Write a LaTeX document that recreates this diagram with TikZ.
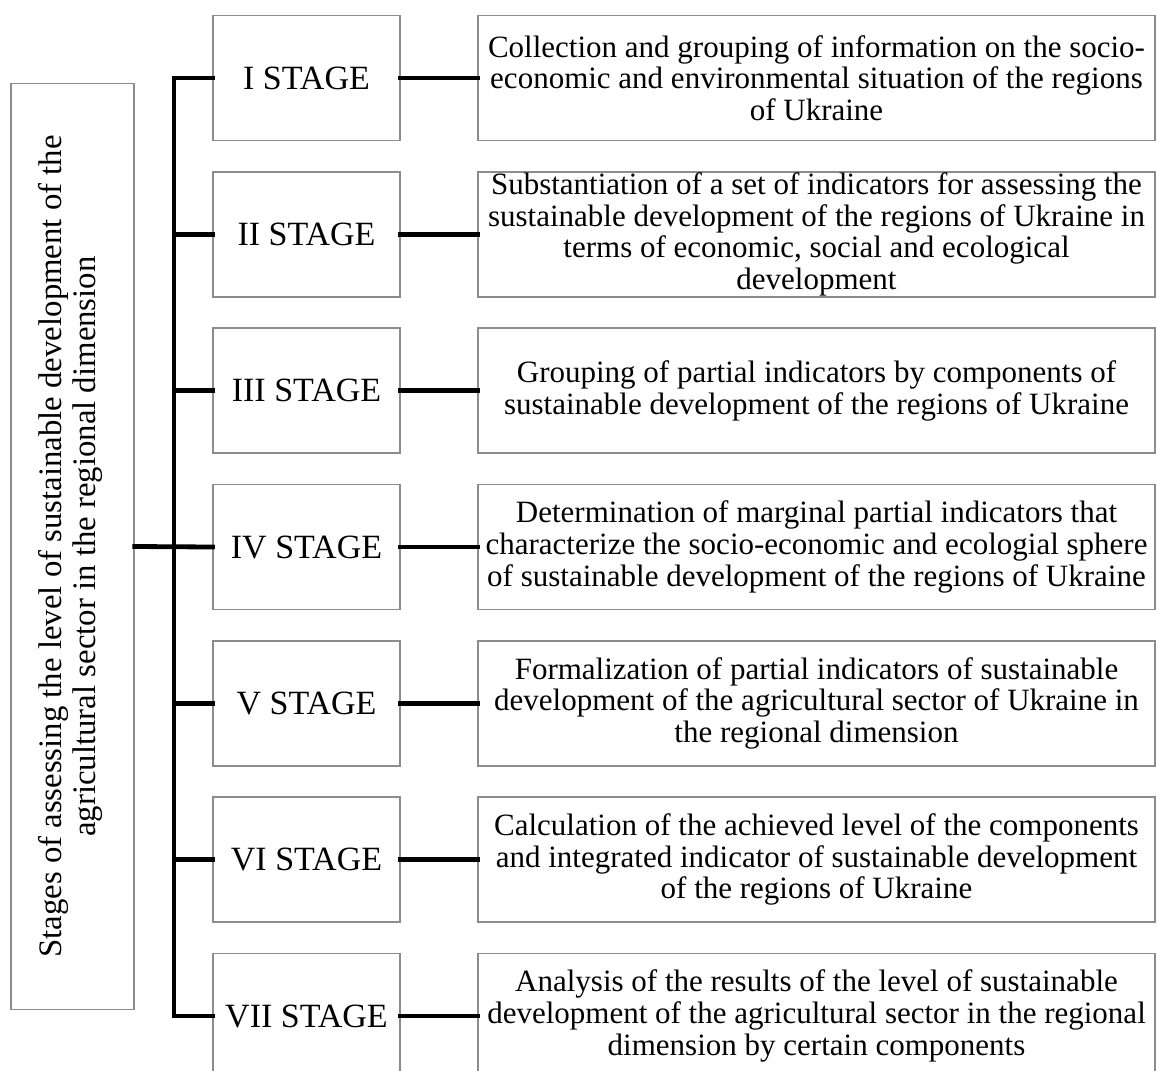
\documentclass[tikz,border=0pt]{standalone}
\usepackage{fontspec}
\setmainfont{Liberation Serif}
\begin{document}
\begin{tikzpicture}[x=0.5pt,y=-0.5pt,
  boxline/.style={draw=black!45,line width=0.75pt},
  stagebox/.style={boxline,minimum width=93.5pt,minimum height=62.5pt,inner sep=0pt,font=\fontsize{17}{18}\selectfont},
  descbox/.style={boxline,minimum width=338.5pt,minimum height=62.5pt,inner sep=0pt,align=center,font=\fontsize{15.5}{15.8}\selectfont},
  link/.style={line width=2.4pt,line cap=rect}]
\useasboundingbox (0,0) rectangle (1157,1071);
\node[boxline,minimum width=61.5pt,minimum height=463pt,inner sep=0pt] (main) at (72.5,546.5) {};
\node[rotate=90,align=center,font=\fontsize{16.4}{16.8}\selectfont] at ([xshift=-1pt]main.center) {Stages of assessing the level of sustainable development of the\\agricultural sector in the regional dimension};
\node[stagebox] (s1) at (306.5,78) {I STAGE};
\node[stagebox] (s2) at (306.5,234.3) {II STAGE};
\node[stagebox] (s3) at (306.5,390.7) {III STAGE};
\node[stagebox] (s4) at (306.5,547) {IV STAGE};
\node[stagebox] (s5) at (306.5,703.3) {V STAGE};
\node[stagebox] (s6) at (306.5,859.7) {VI STAGE};
\node[stagebox] (s7) at (306.5,1016) {VII STAGE};
\node[descbox] (r1) at (816.5,78) {Collection and grouping of information on the socio-\\economic and environmental situation of the regions\\of Ukraine};
\node[descbox] (r2) at (816.5,234.3) {Substantiation of a set of indicators for assessing the\\sustainable development of the regions of Ukraine in\\terms of economic, social and ecological\\development};
\node[descbox] (r3) at (816.5,390.7) {Grouping of partial indicators by components of\\sustainable development of the regions of Ukraine};
\node[descbox] (r4) at (816.5,547) {Determination of marginal partial indicators that\\characterize the socio-economic and ecologial sphere\\of sustainable development of the regions of Ukraine};
\node[descbox] (r5) at (816.5,703.3) {Formalization of partial indicators of sustainable\\development of the agricultural sector of Ukraine in\\the regional dimension};
\node[descbox] (r6) at (816.5,859.7) {Calculation of the achieved level of the components\\and integrated indicator of sustainable development\\of the regions of Ukraine};
\node[descbox] (r7) at (816.5,1016) {Analysis of the results of the level of sustainable\\development of the agricultural sector in the regional\\dimension by certain components};
\coordinate (top) at (174,78);
\coordinate (bot) at (174,1016);
\draw[link] (top) -- (bot);
\draw[link] (main.east) -- (s4.west);
\foreach \i in {1,...,7}{
  \draw[link] (s\i.west -| top) -- (s\i.west);
  \draw[link] (s\i.east) -- (r\i.west);
}
\end{tikzpicture}
\end{document}
